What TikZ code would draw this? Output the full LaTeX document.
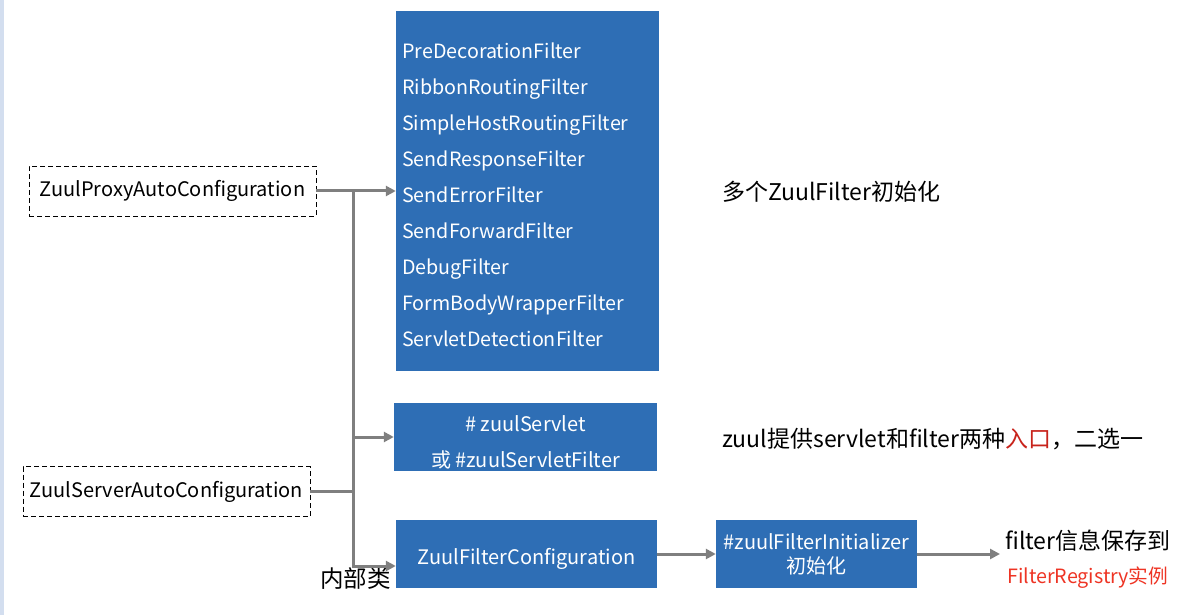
\documentclass[tikz,border=0pt]{standalone}
\usepackage{fontspec}
\setmainfont{Noto Sans CJK SC}
\usetikzlibrary{arrows.meta,positioning,calc}
\definecolor{boxblue}{HTML}{2E6EB5}
\definecolor{linegray}{HTML}{7F7F7F}
\definecolor{entryred}{HTML}{C8231B}
\definecolor{regred}{HTML}{EE3424}
\definecolor{stripblue}{HTML}{D3DEEF}
\tikzset{
block/.style = {fill=boxblue, text=white, rectangle, inner sep=0pt, font=\fontsize{20}{24}\selectfont},
cfg/.style   = {draw, dash pattern=on 5pt off 3pt, rectangle, inner sep=0pt, minimum height=50pt, minimum width=287pt, font=\fontsize{20}{24}\selectfont},
note/.style  = {anchor=west, inner sep=0pt, font=\fontsize{23}{24}\selectfont},
tmp/.style   = {coordinate},
arr/.style   = {draw=linegray, line width=3pt, -{Triangle[length=10pt,width=10pt]}},
wire/.style  = {draw=linegray, line width=3pt}
}
\begin{document}
\begin{tikzpicture}[x=1pt, y=-1pt]
  \useasboundingbox (0,0) rectangle (1192,615);
  \fill [stripblue] (0,0) rectangle (4,615);

  % blue boxes
  \node [block, minimum width=263pt, minimum height=360pt]                          (filters)  at (527.5,191) {};
  \node [block, fill=none, anchor=west, align=left, font=\fontsize{19.7}{36}\selectfont] (names) at (402,195)
    {PreDecorationFilter\\RibbonRoutingFilter\\SimpleHostRoutingFilter\\SendResponseFilter\\SendErrorFilter\\SendForwardFilter\\DebugFilter\\FormBodyWrapperFilter\\ServletDetectionFilter};
  \node [block, minimum width=263pt, minimum height=68pt]                           (servlet)  at (525.5,437) {};
  \node [block, fill=none, align=center, font=\fontsize{20}{36}\selectfont]         (servtext) at (525.5,442) {\# zuulServlet\\或 \#zuulServletFilter};
  \node [block, minimum width=261pt, minimum height=68pt]                           (zfc)      at (526.5,554) {\raisebox{-5pt}[\height][\depth]{ZuulFilterConfiguration}};
  \node [block, minimum width=201pt, minimum height=68pt, align=center]             (init)     at (816.5,554) {\#zuulFilterInitializer\\初始化};

  % configuration classes
  \node [cfg]                                (proxy)    at (172.5,191)   {ZuulProxyAutoConfiguration};
  \node [cfg]                                (server)   at (166.5,491.5) {ZuulServerAutoConfiguration};

  % notes
  \node [note]                               (multi)    at (722,192) {多个ZuulFilter初始化};
  \node [note]                               (entry)    at (722,439) {zuul提供servlet和filter两种\textcolor{entryred}{入口}，二选一};
  \node [note]                               (save)     at (1005,541) {filter信息保存到};
  \node [note, text=regred, font=\fontsize{19.7}{24}\selectfont] (registry) at (1007,578) {FilterRegistry实例};
  \node [note, font=\fontsize{23.5}{24}\selectfont] (inner) at (320,579) {内部类};

  \node [tmp]                                (jp)       at (353,191) {};
  \node [tmp]                                (out)      at (1000,554) {};

  \draw [arr]  (proxy.east) -- (filters.west);
  \draw [arr]  (jp) |- (servlet.west);
  \draw [arr]  (jp) |- ([yshift=-12pt]zfc.west);
  \draw [wire] (server.east) -- (server.east -| jp);
  \draw [arr]  (zfc.east) -- (init.west);
  \draw [arr]  (init.east) -- (out);
\end{tikzpicture}
\end{document}
